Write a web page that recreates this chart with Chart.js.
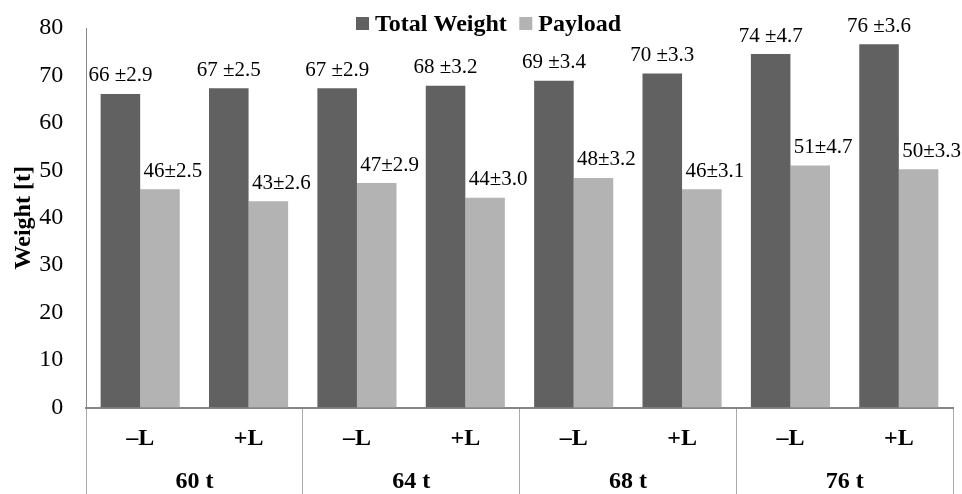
<!DOCTYPE html>
<html>
<head>
<meta charset="utf-8">
<title>Weight by variant</title>
<script src="https://cdn.jsdelivr.net/npm/chart.js@4.4.1/dist/chart.umd.min.js"></script>
<style>
  html, body { margin: 0; padding: 0; background: #fff; }
  #wrap { width: 962px; height: 494px; position: relative; }
</style>
</head>
<body>
<div id="wrap"><canvas id="grafico"></canvas></div>
<script>
// ===============================
// DATA
// ===============================

const variants = ["\u2013L", "+L", "\u2013L", "+L", "\u2013L", "+L", "\u2013L", "+L"];
const groups = ["60 t", "64 t", "68 t", "76 t"];

// bar heights [t]
const totalWeight = [66.1, 67.3, 67.3, 67.8, 68.9, 70.4, 74.5, 76.6];
const payload = [46.0, 43.5, 47.3, 44.2, 48.4, 46.0, 51.0, 50.2];

// value labels printed above the bars
const totalLabels = ["66 \u00b12.9", "67 \u00b12.5", "67 \u00b12.9", "68 \u00b13.2", "69 \u00b13.4", "70 \u00b13.3", "74 \u00b14.7", "76 \u00b13.6"];
const payloadLabels = ["46\u00b12.5", "43\u00b12.6", "47\u00b12.9", "44\u00b13.0", "48\u00b13.2", "46\u00b13.1", "51\u00b14.7", "50\u00b13.3"];

const yTicks = [0, 10, 20, 30, 40, 50, 60, 70, 80];

const serif = "'Liberation Serif', 'Times New Roman', serif";
Chart.defaults.font.family = serif;
Chart.defaults.color = "#000";

// ===============================
// PLUGINS
// ===============================

// value labels above each bar
const barLabels = {
    id: "barLabels",
    afterDatasetsDraw(chart) {
        const ctx = chart.ctx;
        const texts = [totalLabels, payloadLabels];
        const shift = [0, 13];
        ctx.save();
        ctx.font = "21px " + serif;
        ctx.fillStyle = "#000";
        ctx.textAlign = "center";
        ctx.textBaseline = "middle";
        chart.data.datasets.forEach((ds, i) => {
            chart.getDatasetMeta(i).data.forEach((bar, j) => {
                ctx.fillText(texts[i][j], bar.x + shift[i], bar.y - 18);
            });
        });
        ctx.restore();
    }
};

// legend drawn over the top of the plot
const topLegend = {
    id: "topLegend",
    afterDraw(chart) {
        const ctx = chart.ctx;
        let x = 356;
        const y = 23.5;
        ctx.save();
        ctx.font = "bold 24px " + serif;
        ctx.textBaseline = "middle";
        ctx.textAlign = "left";
        chart.data.datasets.forEach(ds => {
            ctx.fillStyle = ds.backgroundColor;
            ctx.fillRect(x, y - 6.5, 13, 13);
            x += 19;
            ctx.fillStyle = "#000";
            ctx.fillText(ds.label, x, y + 1);
            x += ctx.measureText(ds.label).width + 12.5;
        });
        ctx.restore();
    }
};

// ===============================
// CHART
// ===============================

new Chart(document.getElementById("grafico"), {
    type: "bar",
    data: {
        labels: variants,
        datasets: [{
            label: "Total Weight",
            data: totalWeight,
            backgroundColor: "#616161"
        }, {
            label: "Payload",
            data: payload,
            backgroundColor: "#b3b3b3"
        }]
    },
    options: {
        responsive: true,
        maintainAspectRatio: false,
        animation: false,
        categoryPercentage: 0.73,
        barPercentage: 1.0,
        layout: {
            padding: { top: 28, left: 9, right: 9, bottom: 0 }
        },
        plugins: {
            legend: { display: false },
            tooltip: { enabled: false }
        },
        scales: {
            x: {
                grid: {
                    display: true,
                    drawOnChartArea: false,
                    drawTicks: true,
                    tickLength: 86.5,
                    color: c => (c.index === undefined || c.index % 2 === 0) ? "#aaaaaa" : "rgba(0,0,0,0)",
                    lineWidth: 1
                },
                border: { display: true, color: "#868686", width: 2 },
                ticks: {
                    padding: -67,
                    autoSkip: false,
                    maxRotation: 0,
                    font: { size: 24, weight: "bold", lineHeight: 1.0 }
                },
                afterFit: scale => { scale.height = 43.5; }
            },
            x2: {
                type: "category",
                position: "bottom",
                labels: groups,
                offset: true,
                grid: { display: false, drawTicks: false },
                border: { display: false },
                ticks: {
                    padding: 19,
                    autoSkip: false,
                    maxRotation: 0,
                    font: { size: 24, weight: "bold", lineHeight: 1.0 }
                },
                afterFit: scale => { scale.height = 43; }
            },
            y: {
                min: 0,
                max: 80,
                afterBuildTicks: scale => {
                    scale.ticks = yTicks.map(v => ({ value: v }));
                },
                grid: { display: false, drawTicks: false },
                border: { display: true, color: "#8a8a8a", width: 1 },
                ticks: {
                    padding: 22.7,
                    font: { size: 24 }
                },
                title: {
                    display: true,
                    text: "Weight [t]",
                    font: { size: 24, weight: "bold" },
                    padding: { top: 0, bottom: 0 }
                },
                afterFit: scale => {
                    scale.width = 77;
                    scale.paddingTop = 14;
                    scale.paddingBottom = 14;
                }
            }
        }
    },
    plugins: [barLabels, topLegend]
});
</script>
</body>
</html>
